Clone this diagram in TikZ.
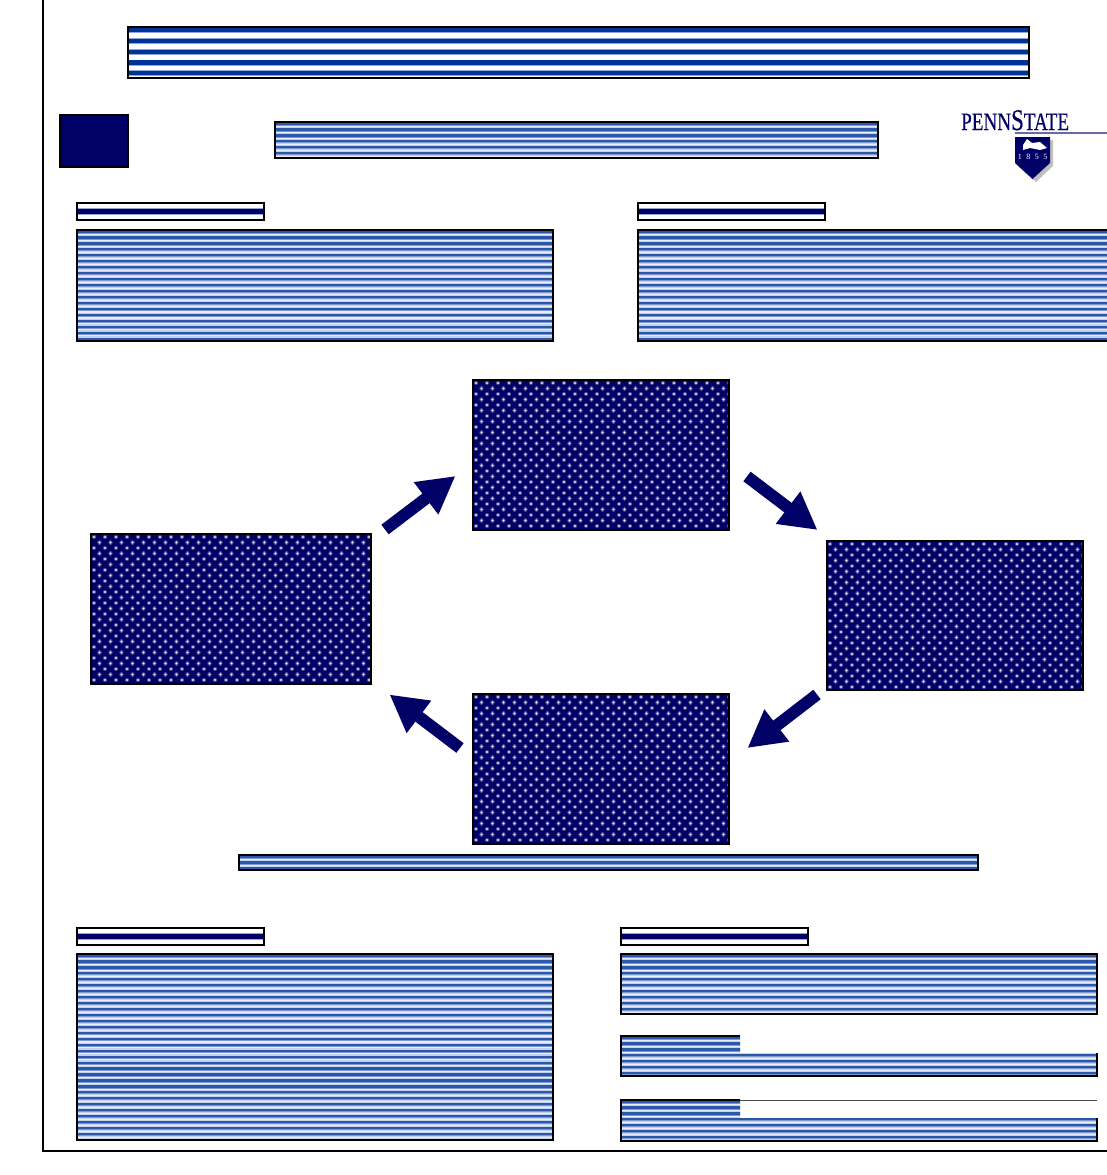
\documentclass[tikz,border=0pt]{standalone}
\usepackage{fontspec}
\setmainfont{Liberation Serif}
\usetikzlibrary{arrows.meta}
\definecolor{navy}{HTML}{000066}
\definecolor{bandA}{HTML}{003399}
\definecolor{bandB}{HTML}{8FA6D6}
\definecolor{bodyLight}{HTML}{C3D0EA}
\definecolor{bodyDark}{HTML}{2B57AB}
\definecolor{bodyMid}{HTML}{7C98CF}
\definecolor{haloC}{HTML}{4A4A96}
\definecolor{haloD}{HTML}{A4A4CC}
\definecolor{logoline}{HTML}{6A6AA8}
\newcommand{\bodyrows}{%
  \fill[bodyLight] (-700,-300) rectangle (700,300);
  \foreach \k in {0,...,34}{
    \pgfmathsetmacro{\yy}{\k*5.95-\bh/2}
    \fill[bodyDark] (-700,\yy+0.4) rectangle (700,\yy+2.6);
    \fill[bodyMid] (-700,\yy+2.6) rectangle (700,\yy+3.3);
    \fill[white!60!bodyLight] (-700,\yy+4.1) rectangle (700,\yy+5.2);
  }}
\newcommand{\bannerrows}{%
  \foreach \k in {0,...,5}{
    \pgfmathsetmacro{\yy}{\k*10.8-\bh/2}
    \fill[bandB] (-700,\yy+0.2) rectangle (700,\yy+1);
    \fill[bandA] (-700,\yy+1) rectangle (700,\yy+5.2);
    \fill[bandB] (-700,\yy+5.2) rectangle (700,\yy+6.2);
  }}
\newcommand{\headrow}{%
  \fill[bandB] (-700,-3.8) rectangle (700,3.8);
  \fill[navy] (-700,-2.4) rectangle (700,2.4);}
\newcommand{\dotlayer}[2]{%
  \draw[#1,line width=#2pt,line cap=round]
    \foreach \r in {0,...,28}{
      \foreach \c in {0,...,26}{
        ({3+\c*11+mod(\r,2)*5.5-\bw/2},{3+\r*5.5-\bh/2}) -- ++(0.01,0)
      }
    };}
\newcommand{\dotrows}{%
  \fill[navy] (-700,-300) rectangle (700,300);
  \dotlayer{haloC}{4.4}\dotlayer{haloD}{2.8}\dotlayer{white}{1.4}}
\tikzset{
  boxbase/.style={draw=black,line width=2pt,inner sep=0pt,outer sep=0pt,anchor=north west},
  bodybox/.style={boxbase,path picture={\bodyrows}},
  bannerbox/.style={boxbase,path picture={\bannerrows}},
  headbox/.style={boxbase,path picture={\headrow}},
  dotbox/.style={boxbase,path picture={\dotrows}},
  navybox/.style={boxbase,fill=navy},
  flow/.style={draw=navy,line width=12pt,-{Triangle[length=37pt,width=38pt,fill=navy]}},
  framerule/.style={line width=2pt,black},
  sz/.style 2 args={minimum width=#1pt,minimum height=#2pt,/utils/exec={\def\bw{#1}\def\bh{#2}}},
}
\begin{document}
\begin{tikzpicture}[x=1pt,y=-1pt]
\useasboundingbox (0,0) rectangle (1107,1175);
\draw[framerule] (43,0) -- (43,1151) -- (1107,1151);

\node[bannerbox,sz={901}{51}] (banner) at (128,27) {};
\node[navybox,sz={67.5}{52}] (square) at (60,115) {};
\node[bodybox,sz={603}{36}] (subtitle) at (275,122) {};

% logo
\node[inner sep=0pt,anchor=base west,text=navy,xscale=.765,transform shape] (logo) at (961,130)
  {\addfontfeature{FakeBold=0.6}\fontsize{25}{25}\selectfont PENN{\fontsize{30}{30}\selectfont S}TATE};
\draw[logoline,line width=1.2pt] (1015,133) -- (1107,133);
\fill[black!25] (1018,140) -- (1053,140) -- (1053,166) -- (1036,182) -- (1018,166) -- cycle;
\fill[navy] (1015,137) -- (1050,137) -- (1050,163) -- (1032.5,179) -- (1015,163) -- cycle;
\fill[white] (1023,145) -- (1027,139) -- (1032,143) -- (1040,142) -- (1047,148) -- (1040,150) -- (1030,148) -- (1023,150) -- cycle;
\node[inner sep=0pt,text=white,font=\fontsize{8}{8}\selectfont] (year) at (1032.5,156.5) {1\hspace{4.5pt}8\hspace{4.5pt}5\hspace{4.5pt}5};

\node[headbox,sz={187}{17}] (headA) at (77,203) {};
\node[headbox,sz={187}{17}] (headB) at (638,203) {};
\node[bodybox,sz={476}{111}] (textA) at (77,230) {};
\node[bodybox,sz={480}{111}] (textB) at (638,230) {};

\node[dotbox,sz={256}{150}] (top) at (473,380) {};
\node[dotbox,sz={280}{150}] (left) at (91,534) {};
\node[dotbox,sz={256}{149}] (right) at (827,541) {};
\node[dotbox,sz={256}{150}] (bottom) at (473,694) {};

\coordinate (a1s) at (385,529.5); \coordinate (a1e) at (455.5,476);
\coordinate (a2s) at (747,476.5); \coordinate (a2e) at (817.5,530);
\coordinate (a3s) at (817,694.5); \coordinate (a3e) at (747.5,748);
\coordinate (a4s) at (460,748); \coordinate (a4e) at (389.5,694.5);
\draw[flow] (a1s) -- (a1e);
\draw[flow] (a2s) -- (a2e);
\draw[flow] (a3s) -- (a3e);
\draw[flow] (a4s) -- (a4e);

\node[bodybox,sz={739}{15}] (caption) at (239,855) {};

\node[headbox,sz={187}{17}] (headC) at (77,928) {};
\node[headbox,sz={187}{17}] (headD) at (621,928) {};
\node[bodybox,sz={476}{186}] (textC) at (77,954) {};
\node[bodybox,sz={476}{60}] (textD) at (621,954) {};

% notched boxes
\begin{scope}
  \clip (621,1036) -| (740,1053) -| (1097,1076) -| cycle;
  \node[inner sep=0pt,outer sep=0pt,anchor=north west,sz={476}{40},path picture={\bodyrows}] (textE) at (621,1036) {};
\end{scope}
\draw[line width=2pt] (740,1036) -- (621,1036) -- (621,1076) -- (1097,1076) -- (1097,1053);
\begin{scope}
  \clip (621,1100) -| (740,1118) -| (1097,1141) -| cycle;
  \node[inner sep=0pt,outer sep=0pt,anchor=north west,sz={476}{41},path picture={\bodyrows}] (textF) at (621,1100) {};
\end{scope}
\draw[line width=2pt] (740,1100) -- (621,1100) -- (621,1141) -- (1097,1141) -- (1097,1118);
\draw[line width=.6pt,black!70] (740,1100) -- (1097,1100);
\end{tikzpicture}
\end{document}
